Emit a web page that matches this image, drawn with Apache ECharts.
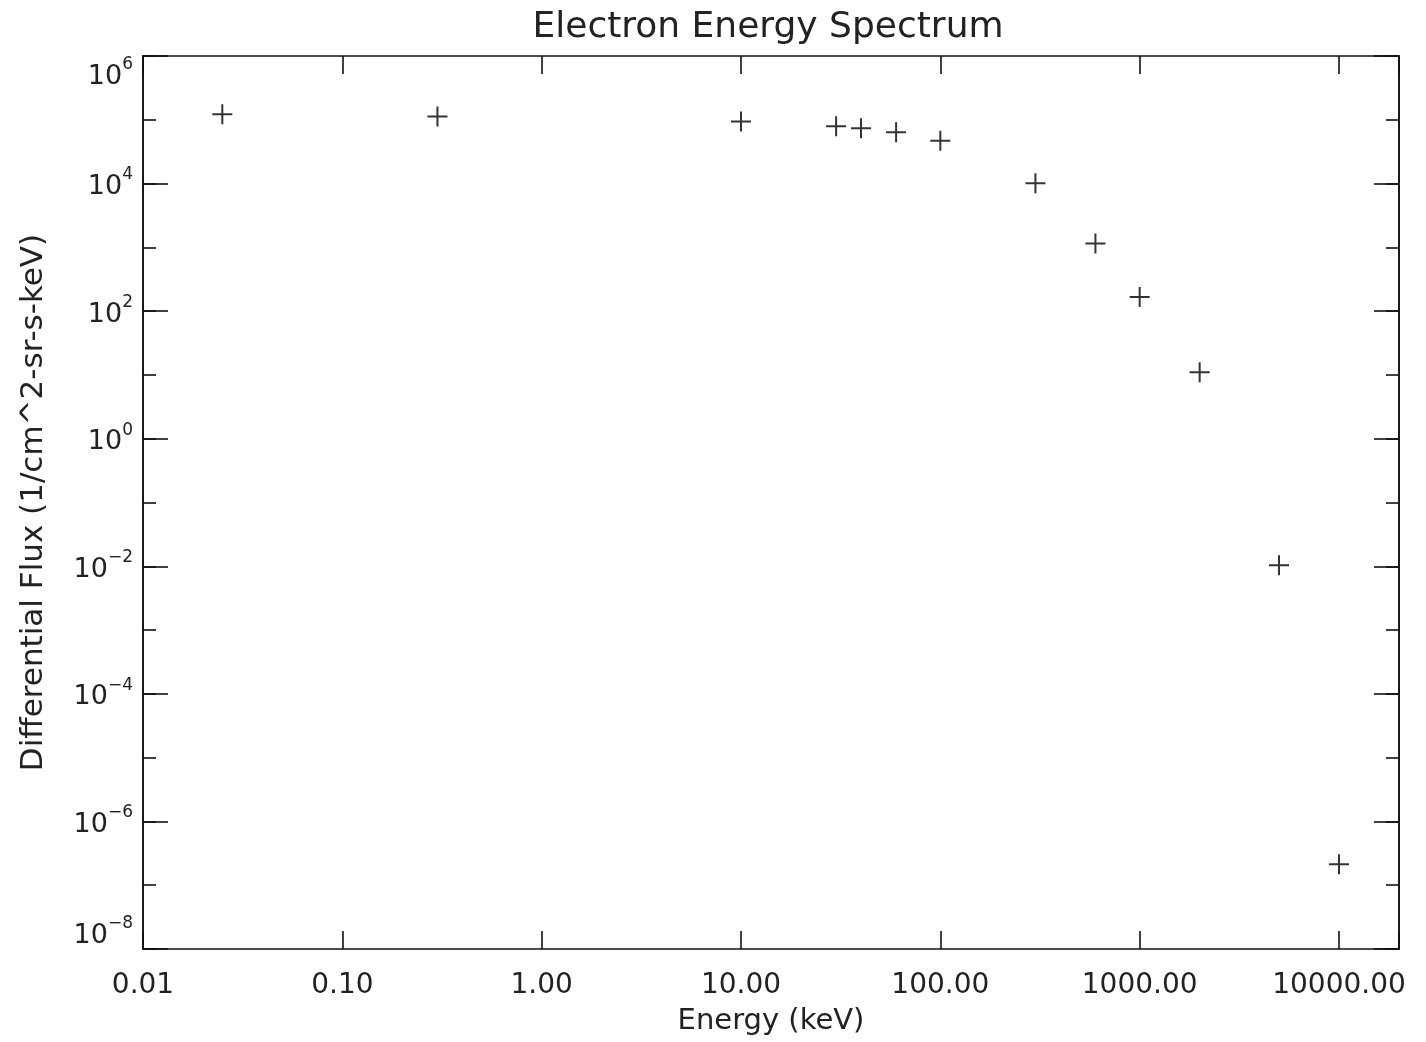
<!DOCTYPE html>
<html>
<head>
<meta charset="utf-8">
<script src="https://cdn.jsdelivr.net/npm/echarts@6/dist/echarts.min.js"></script>
<style>
html,body{margin:0;padding:0;background:#fff;}
#chart{width:1426px;height:1042px;}
</style>
</head>
<body>
<div id="chart"></div>
<script>
// ---- data ----
var energyKeV = [0.025, 0.3, 10, 30, 40, 60, 100, 300, 600, 1000, 2000, 5000, 10000];
var flux = [1.22e5, 1.13e5, 9.4e4, 7.9e4, 7.4e4, 6.4e4, 4.7e4, 1.01e4, 1150, 167, 11.0, 0.0104, 2.13e-7];

var xTickValues = [0.01, 0.1, 1, 10, 100, 1000, 10000];
var xTickLabels = ['0.01', '0.10', '1.00', '10.00', '100.00', '1000.00', '10000.00'];
var yTickExponents = [-8, -6, -4, -2, 0, 2, 4, 6];

var titleText = 'Electron Energy Spectrum';
var xName = 'Energy (keV)';
var yName = 'Differential Flux (1/cm^2-sr-s-keV)';

var xMin = 0.01, xMax = 20000;
var yMin = 1e-8, yMax = 1e6;

var FONT = '"DejaVu Sans", sans-serif';
var TXT = '#222';
var LINE = '#111';

var points = energyKeV.map(function (e, i) { return [e, flux[i]]; });

function xLabel(v) {
  for (var i = 0; i < xTickValues.length; i++) {
    if (Math.abs(Math.log10(v) - Math.log10(xTickValues[i])) < 1e-6) return xTickLabels[i];
  }
  return '';
}
function yLabel(v) {
  var e = Math.round(Math.log10(v));
  if (Math.abs(Math.log10(v) - e) > 1e-6 || yTickExponents.indexOf(e) < 0) return '';
  var es = e < 0 ? '\u2212' + (-e) : String(e);
  return '{b|10}{s|' + es + '}';
}

var plusPath = 'path://M9,0 h2 v9 h9 v2 h-9 v9 h-2 v-9 h-9 v-2 h9 z';

function baseX(pos, showLabel) {
  return {
    type: 'log', logBase: 10, position: pos, min: xMin, max: xMax, interval: 1,
    axisLine: { show: true, onZero: false, lineStyle: { color: LINE, width: 1.6 } },
    axisTick: { show: true, inside: true, length: 18, lineStyle: { color: LINE, width: 1.6 } },
    minorTick: { show: false },
    splitLine: { show: false },
    axisLabel: {
      show: showLabel, margin: 23, formatter: xLabel,
      fontFamily: FONT, fontSize: 28, color: TXT
    }
  };
}
function baseY(pos, interval, len, showLabel) {
  return {
    type: 'log', logBase: 10, position: pos, min: yMin, max: yMax, interval: interval,
    axisLine: { show: true, onZero: false, lineStyle: { color: LINE, width: 1.6 } },
    axisTick: { show: true, inside: true, length: len, lineStyle: { color: LINE, width: 1.6 } },
    minorTick: { show: false },
    splitLine: { show: false },
    axisLabel: {
      show: showLabel, margin: 10, formatter: yLabel, align: 'right',
      verticalAlignMaxLabel: 'top', verticalAlignMinLabel: 'bottom',
      rich: {
        b: { fontFamily: FONT, fontSize: 27, color: TXT, lineHeight: 34, verticalAlign: 'bottom' },
        s: { fontFamily: FONT, fontSize: 17, color: TXT, lineHeight: 34, verticalAlign: 'top' }
      }
    }
  };
}

var xAxes = [baseX('bottom', true), baseX('top', false)];
xAxes[0].name = xName;
xAxes[0].nameLocation = 'middle';
xAxes[0].nameGap = 58;
xAxes[0].nameTextStyle = { fontFamily: FONT, fontSize: 29, color: TXT };

var yAxes = [baseY('left', 2, 25, true), baseY('left', 1, 13, false), baseY('right', 2, 25, false), baseY('right', 1, 13, false)];
yAxes[0].name = yName;
yAxes[0].nameLocation = 'middle';
yAxes[0].nameGap = 94;
yAxes[0].nameRotate = 90;
yAxes[0].nameTextStyle = { fontFamily: FONT, fontSize: 31, color: TXT };

var chart = echarts.init(document.getElementById('chart'), null, { renderer: 'canvas' });
chart.setOption({
  animation: false,
  backgroundColor: '#fff',
  title: {
    text: titleText, left: 763, top: 5, textAlign: 'center',
    textStyle: { fontFamily: FONT, fontSize: 36, fontWeight: 'normal', color: TXT }
  },
  grid: { left: 143, right: 27, top: 56, bottom: 93, containLabel: false },
  xAxis: xAxes,
  yAxis: yAxes,
  series: [{
    type: 'scatter', xAxisIndex: 0, yAxisIndex: 0,
    data: points,
    symbol: plusPath, symbolSize: 20,
    itemStyle: { color: '#000' }
  }]
});
</script>
</body>
</html>
